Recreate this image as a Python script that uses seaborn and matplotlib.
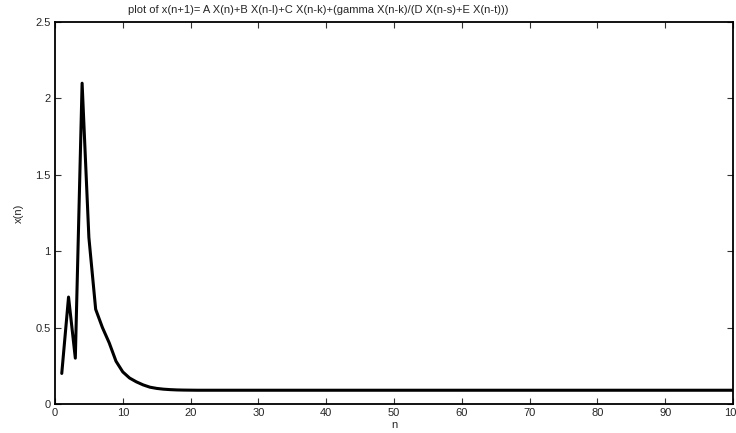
import numpy as np
import pandas as pd
import matplotlib
matplotlib.use("Agg")
import matplotlib.pyplot as plt
import seaborn as sns

# values
n = [1, 2, 3, 4, 5, 6, 7, 8, 9, 10, 11, 12, 13, 14, 15, 16, 17, 18, 19, 20,
     21, 22, 100]
xn = [0.2, 0.7, 0.3, 2.1, 1.09, 0.62, 0.5, 0.4, 0.28, 0.21, 0.17, 0.145,
      0.125, 0.11, 0.102, 0.097, 0.094, 0.092, 0.091, 0.0905, 0.09, 0.09, 0.09]
x_ticks = [0, 10, 20, 30, 40, 50, 60, 70, 80, 90, 100]
y_ticks = [0, 0.5, 1, 1.5, 2, 2.5]
y_tick_labels = ["0", "0.5", "1", "1.5", "2", "2.5"]

df = pd.DataFrame({"n": n, "x(n)": xn})

sns.set_style("ticks")
plt.rcParams['font.family'] = ['Liberation Sans', 'DejaVu Sans']

fig = plt.figure(figsize=(7.36, 4.33), dpi=100)
ax = fig.add_axes([0.0747, 0.067, 0.9213, 0.882])

sns.lineplot(data=df, x="n", y="x(n)", ax=ax, color="black", linewidth=2.2)

ax.set_xlim(0, 100)
ax.set_ylim(0, 2.5)
ax.set_xticks(x_ticks)
ax.set_yticks(y_ticks)
ax.set_yticklabels(y_tick_labels)
ax.tick_params(direction="in", length=4, width=0.8, labelsize=8, color="#333333",
               top=True, right=True, pad=3)
for s in ax.spines.values():
    s.set_visible(True)
    s.set_linewidth(1.3)
    s.set_color("black")

ax.set_xlabel("n", fontsize=8, labelpad=1)
ax.set_ylabel("x(n)", fontsize=8, labelpad=8)

fig.text(128 / 736, 1 - 10 / 433,
         "plot of x(n+1)= A X(n)+B X(n-l)+C X(n-k)+(gamma X(n-k)/(D X(n-s)+E X(n-t)))",
         fontsize=8, ha="left", va="center")

fig.savefig("out.png", dpi=100)
